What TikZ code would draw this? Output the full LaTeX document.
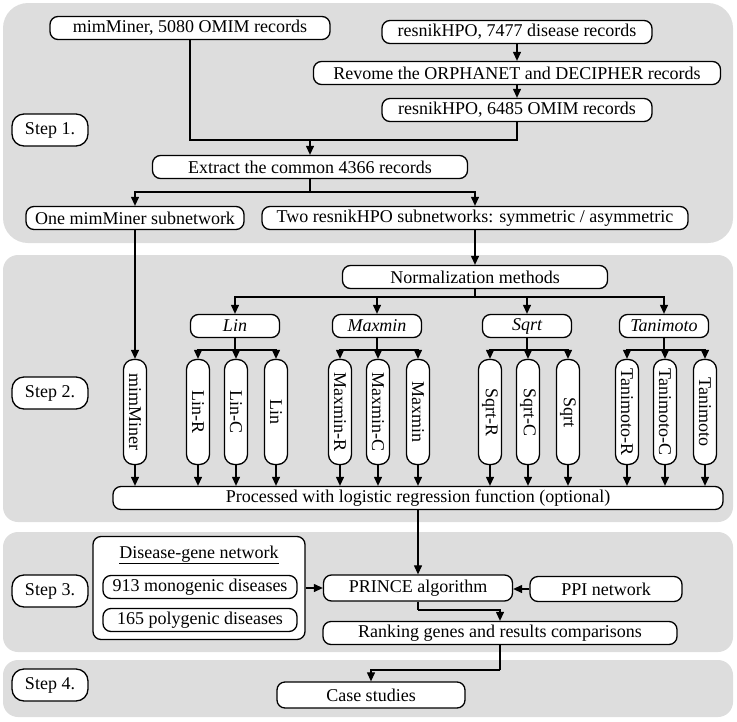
\documentclass[tikz,border=0pt]{standalone}
\usepackage{fontspec}
\setmainfont{Liberation Serif}
\usetikzlibrary{arrows.meta}
\definecolor{panelgray}{RGB}{221,221,221}
\tikzset{
  box/.style={draw, fill=white, line width=1.3pt, rounded corners=8pt, inner sep=0pt,
    minimum height=23pt, font=\rmfamily\fontsize{18}{20}\selectfont},
  vbox/.style={box, rotate=-90, minimum width=105pt, minimum height=23pt, rounded corners=10pt},
  stepbox/.style={box, minimum width=76pt, minimum height=32pt, rounded corners=12pt},
  panel/.style={fill=panelgray, draw=none},
  arr/.style={line width=1.2pt, -{Triangle[length=9pt,width=8pt]}},
  ln/.style={line width=1.2pt}
}
\begin{document}
\begin{tikzpicture}[x=1pt,y=-1pt]
\useasboundingbox (0,0) rectangle (737,721);
\fill[panel, rounded corners=25pt] (3,3) rectangle (733,243);
\fill[panel, rounded corners=15pt] (3,255) rectangle (733,522);
\fill[panel, rounded corners=15pt] (3,532) rectangle (733,652);
\fill[panel, rounded corners=15pt] (3,660) rectangle (733,717);

\node[stepbox] (s1) at (50,130) {Step 1.};
\node[stepbox] (s2) at (50,393) {Step 2.};
\node[stepbox] (s3) at (50,591) {Step 3.};
\node[stepbox] (s4) at (50,685) {Step 4.};

% step 1
\node[box, minimum width=280pt] (mim) at (190,28) {mimMiner, 5080 OMIM records};
\node[box, minimum width=270pt] (hpoall) at (517,32) {resnikHPO, 7477 disease records};
\node[box, minimum width=407pt] (revome) at (517,73) {Revome the ORPHANET and DECIPHER records};
\node[box, minimum width=270pt] (hpoomim) at (517,110) {resnikHPO, 6485 OMIM records};
\node[box, minimum width=315pt] (extract) at (310,167) {Extract the common 4366 records};
\node[box, minimum width=218pt] (onemim) at (135,218) {One mimMiner subnetwork};
\node[box, minimum width=426pt] (twohpo) at (475,218) {Two resnikHPO subnetworks: symmetric / asymmetric};
\coordinate (j1) at (310,140);
\coordinate (j2) at (310,192);
\draw[arr] (hpoall) -- (revome);
\draw[arr] (revome) -- (hpoomim);
\draw[ln] (mim.south) |- (j1);
\draw[ln] (hpoomim.south) |- (j1);
\draw[arr] (j1) -- (extract.north);
\draw[ln] (extract.south) -- (j2);
\draw[arr] (j2) -| (onemim.north);
\draw[arr] (j2) -| (twohpo.north);

% step 2
\node[box, minimum width=265pt] (norm) at (475,277) {Normalization methods};
\node[box, minimum width=610pt] (proc) at (418,498) {Processed with logistic regression function (optional)};
\node[vbox] (vmim) at (135,412) {mimMiner};
\draw[arr] (onemim.south) -- (vmim.west);
\draw[arr] (twohpo.south) -- (norm.north);
\draw[arr] (vmim.east) -- (vmim.east |- proc.north);
\coordinate (j3) at (475,297);
\draw[ln] (norm.south) -- (j3);
\foreach \m/\x/\lab in {lin/235/Lin, max/377/Maxmin, sqr/527/Sqrt, tan/664/Tanimoto}{
  \node[box, minimum width=89pt, font=\rmfamily\fontsize{18}{20}\selectfont\itshape] (\m) at (\x,326) {\lab};
  \draw[arr] (j3) -| (\m.north);
  \coordinate (\m-j) at (\x,350);
  \draw[ln] (\m.south) -- (\m-j);
  \node[vbox] (\m-r) at (\x-37,412) {\lab-R};
  \node[vbox] (\m-c) at (\x+1,412) {\lab-C};
  \node[vbox] (\m-p) at (\x+41,412) {\lab};
  \foreach \v in {r,c,p}{
    \draw[arr] (\m-j) -| (\m-\v.west);
    \draw[arr] (\m-\v.east) -- (\m-\v.east |- proc.north);
  }
}

% step 3
\node[box, minimum width=212pt, minimum height=103pt] (dgnet) at (199,588) {};
\node[font=\rmfamily\fontsize{18}{20}\selectfont] (dgtitle) at (199,555) {\underline{Disease-gene network}};
\node[box, minimum width=194pt] (mono) at (200,587) {913 monogenic diseases};
\node[box, minimum width=194pt] (poly) at (200,620) {165 polygenic diseases};
\node[box, minimum width=189pt, minimum height=26pt] (prince) at (418,588) {PRINCE algorithm};
\node[box, minimum width=152pt, minimum height=25pt] (ppi) at (606,589) {PPI network};
\node[box, minimum width=354pt] (rank) at (500,633) {Ranking genes and results comparisons};
\coordinate (j4) at (418,610);
\draw[arr] (proc.south) -- (prince.north);
\draw[arr] (dgnet.east |- prince.west) -- (prince.west);
\draw[arr] (ppi.west) -- (prince.east |- ppi.west);
\draw[ln] (prince.south) -- (j4);
\draw[arr] (j4) -| (rank.north);

% step 4
\node[box, minimum width=188pt, minimum height=26pt] (case) at (371,695) {Case studies};
\coordinate (j5) at (500,670);
\draw[ln] (rank.south) -- (j5);
\draw[arr] (j5) -| (case.north);
\end{tikzpicture}
\end{document}
